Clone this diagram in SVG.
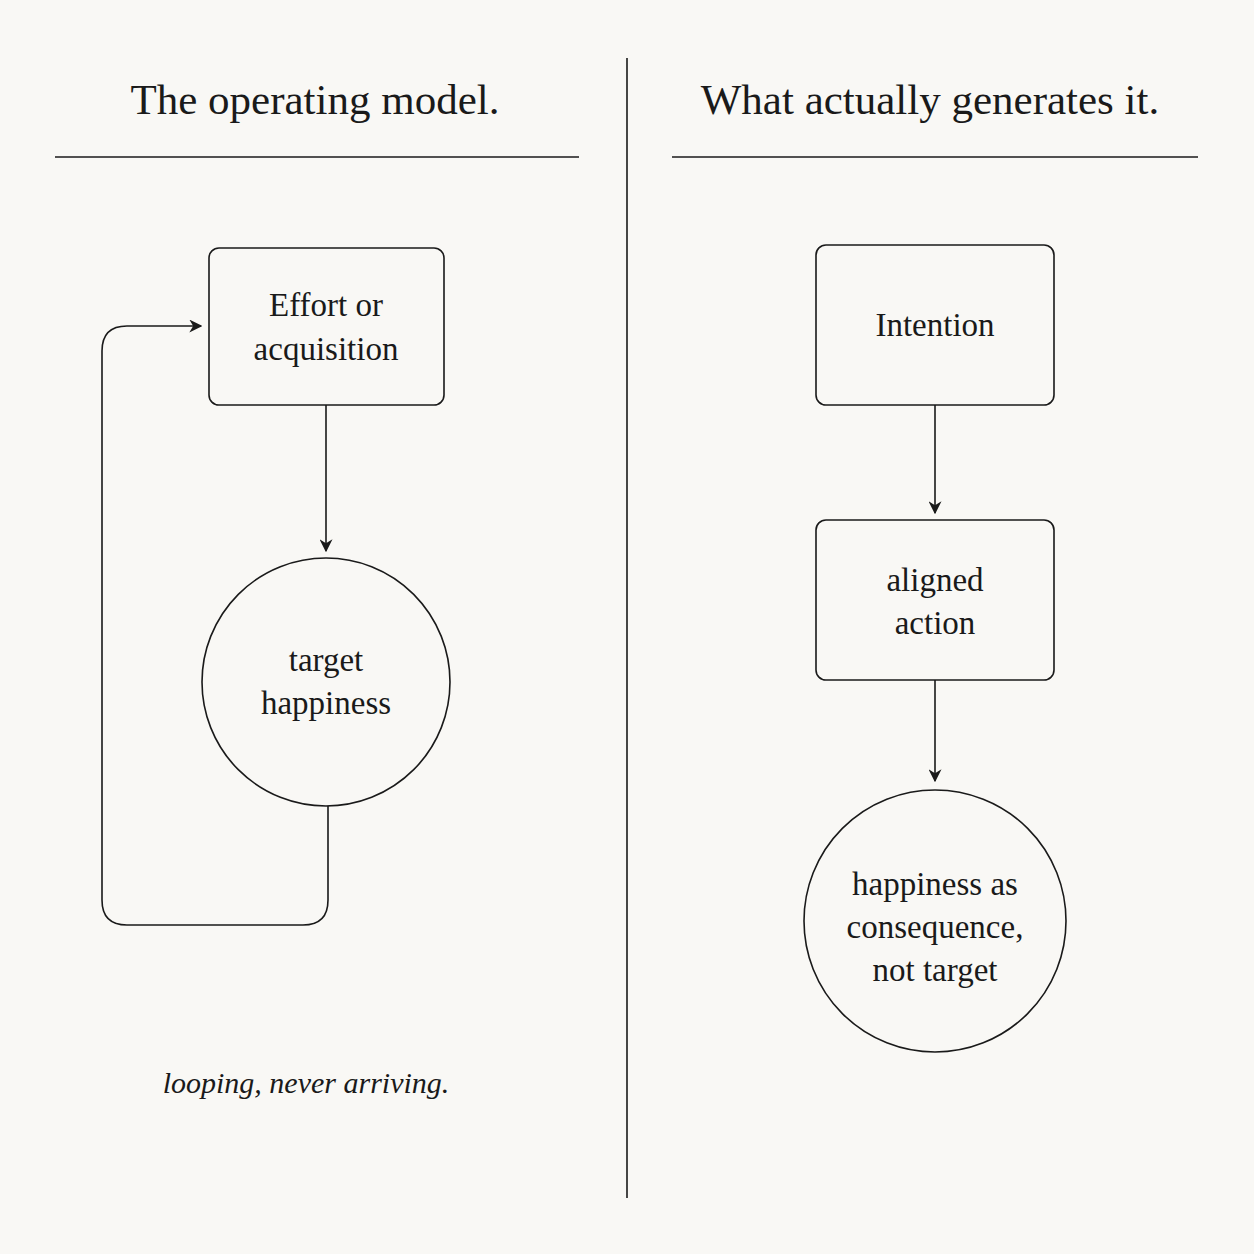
<svg xmlns="http://www.w3.org/2000/svg" width="1254" height="1254" viewBox="0 0 1254 1254">
<style>
.t{font-family:"Liberation Serif","DejaVu Serif",serif;fill:#1a1a1a;text-anchor:middle}
.h{font-size:43px}
.n{font-size:33px}
.s{fill:none;stroke:#1a1a1a;stroke-width:1.6}
</style>
<defs><marker id="a" viewBox="0 0 10 10" refX="9" refY="5" markerWidth="13" markerHeight="13" markerUnits="userSpaceOnUse" orient="auto"><path d="M0,0 L10,5 L0,10 L3,5 Z" fill="#1a1a1a"/></marker></defs>
<rect width="1254" height="1254" fill="#f9f8f5"/>
<g id="headers">
<text class="t h" x="315" y="114">The operating model.</text>
<text class="t h" x="930" y="114">What actually generates it.</text>
<line class="s" x1="55" y1="157" x2="579" y2="157"/>
<line class="s" x1="672" y1="157" x2="1198" y2="157"/>
<line class="s" x1="627" y1="58" x2="627" y2="1198"/>
</g>
<g id="effort"><rect class="s" x="209" y="248" width="235" height="157" rx="10"/>
<text class="t n" x="326" y="316">Effort or</text><text class="t n" x="326" y="360">acquisition</text></g>
<g id="target"><circle class="s" cx="326" cy="682" r="124"/>
<text class="t n" x="326" y="671">target</text><text class="t n" x="326" y="714">happiness</text></g>
<g id="intention"><rect class="s" x="816" y="245" width="238" height="160" rx="10"/>
<text class="t n" x="935" y="336">Intention</text></g>
<g id="aligned"><rect class="s" x="816" y="520" width="238" height="160" rx="10"/>
<text class="t n" x="935" y="591">aligned</text><text class="t n" x="935" y="634">action</text></g>
<g id="consequence"><circle class="s" cx="935" cy="921" r="131"/>
<text class="t n" x="935" y="895">happiness as</text><text class="t n" x="935" y="938">consequence,</text><text class="t n" x="935" y="981">not target</text></g>
<g id="connectors">
<line class="s" x1="326" y1="405" x2="326" y2="551" marker-end="url(#a)"/>
<path class="s" d="M328,806 V900 Q328,925 303,925 H127 Q102,925 102,900 V351 Q102,326 127,326 H201" marker-end="url(#a)"/>
<line class="s" x1="935" y1="405" x2="935" y2="513" marker-end="url(#a)"/>
<line class="s" x1="935" y1="680" x2="935" y2="781" marker-end="url(#a)"/>
</g>
<text class="t" x="306" y="1093" font-size="30" font-style="italic">looping, never arriving.</text>
</svg>
